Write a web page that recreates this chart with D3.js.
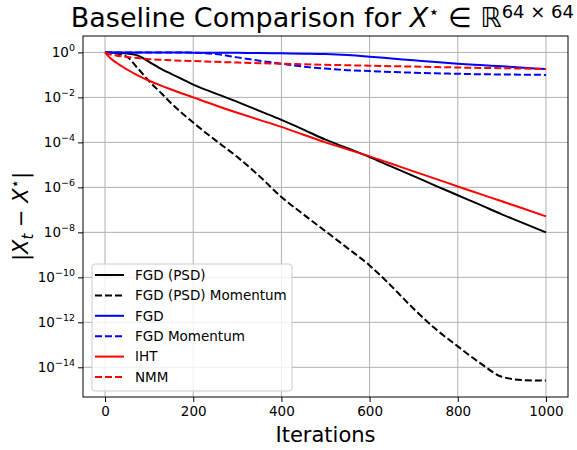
<!DOCTYPE html>
<html>
<head>
<meta charset="utf-8">
<script src="https://cdn.jsdelivr.net/npm/d3@7"></script>
<style>
  body { margin: 0; background: #fff; }
  svg { font-family: "DejaVu Sans", sans-serif; }
</style>
</head>
<body>
<div id="chart"></div>
<script>
// iteration grid shared by all series
var iters = [0, 10, 25, 50, 75, 100, 130, 150, 200, 250, 300, 350, 400, 450, 500, 550, 600, 650, 700, 750, 800, 850, 900, 950, 1000];

// log10 of |X_t - X*|
var fgdPsd = [0, -0.005, -0.02, -0.05, -0.14, -0.42, -0.76, -0.95, -1.43, -1.82, -2.2, -2.6, -3.0, -3.43, -3.88, -4.26, -4.65, -5.08, -5.5, -5.93, -6.35, -6.77, -7.2, -7.6, -8.0];
var fgdPsdMom = [0, -0.01, -0.04, -0.2, -0.72, -1.28, -1.86, -2.26, -3.12, -3.9, -4.65, -5.5, -6.43, -7.2, -7.95, -8.7, -9.47, -10.4, -11.4, -12.3, -13.07, -13.8, -14.42, -14.57, -14.59];
var fgd = [0, 0, 0, 0, 0, -0.002, -0.004, -0.005, -0.01, -0.015, -0.02, -0.03, -0.04, -0.055, -0.075, -0.12, -0.19, -0.27, -0.35, -0.43, -0.5, -0.56, -0.62, -0.68, -0.74];
var fgdMom = [0, 0, 0, 0, 0, 0, 0, 0, -0.01, -0.07, -0.22, -0.37, -0.5, -0.63, -0.72, -0.79, -0.83, -0.87, -0.9, -0.93, -0.95, -0.97, -0.98, -0.99, -1.0];
var iht = [0, -0.22, -0.45, -0.76, -1.03, -1.26, -1.5, -1.65, -2.0, -2.35, -2.68, -3.0, -3.31, -3.66, -4.0, -4.31, -4.62, -4.95, -5.29, -5.62, -5.96, -6.29, -6.62, -6.95, -7.29];
var nmm = [0, -0.08, -0.14, -0.2, -0.25, -0.3, -0.33, -0.35, -0.38, -0.42, -0.45, -0.48, -0.5, -0.53, -0.55, -0.57, -0.59, -0.61, -0.63, -0.65, -0.67, -0.69, -0.7, -0.72, -0.74];

var seriesNames = ["FGD (PSD)", "FGD (PSD) Momentum", "FGD", "FGD Momentum", "IHT", "NMM"];
var seriesValues = [fgdPsd, fgdPsdMom, fgd, fgdMom, iht, nmm];
var seriesColors = ["#000000", "#000000", "#0000ff", "#0000ff", "#ff0000", "#ff0000"];
var seriesDashed = [false, true, false, true, false, true];

var xTicks = [0, 200, 400, 600, 800, 1000];
var yTickExps = [0, -2, -4, -6, -8, -10, -12, -14];

var W = 577, H = 450;
var margin = {top: 36, right: 9, bottom: 53, left: 83};
var width = W - margin.left - margin.right,
    height = H - margin.top - margin.bottom;

var svg = d3.select("#chart").append("svg")
    .attr("width", W)
    .attr("height", H);

var g = svg.append("g")
    .attr("transform", "translate(" + margin.left + "," + margin.top + ")");

var x = d3.scaleLinear().domain([-50, 1050]).range([0, width]);
var y = d3.scaleLog().domain([Math.pow(10, -15.32), Math.pow(10, 0.73)]).range([height, 0]);

// grid
g.append("g").selectAll("line").data(xTicks).enter().append("line")
    .attr("x1", d => x(d)).attr("x2", d => x(d))
    .attr("y1", 0).attr("y2", height)
    .attr("stroke", "#b0b0b0").attr("stroke-width", 1);
g.append("g").selectAll("line").data(yTickExps).enter().append("line")
    .attr("x1", 0).attr("x2", width)
    .attr("y1", d => y(Math.pow(10, d))).attr("y2", d => y(Math.pow(10, d)))
    .attr("stroke", "#b0b0b0").attr("stroke-width", 1);

// axes
var xAxis = g.append("g")
    .attr("transform", "translate(0," + height + ")")
    .call(d3.axisBottom(x).tickValues(xTicks).tickSize(5).tickPadding(4).tickFormat(d3.format("d")));
xAxis.select(".domain").remove();
xAxis.selectAll("text").attr("font-size", "13.5px").attr("fill", "#000").attr("font-family", "DejaVu Sans");

var yAxis = g.append("g")
    .call(d3.axisLeft(y).tickValues(yTickExps.map(e => Math.pow(10, e))).tickSize(5).tickPadding(3).tickFormat(""));
yAxis.select(".domain").remove();
yAxis.selectAll(".tick").each(function(d) {
  var e = Math.round(Math.log10(d));
  var t = d3.select(this).select("text")
      .attr("font-size", "13.5px").attr("fill", "#000").attr("font-family", "DejaVu Sans")
      .attr("dy", "0.32em").attr("x", -8);
  t.append("tspan").text("10");
  t.append("tspan").attr("font-size", "9.5px").attr("dy", "-0.62em")
      .text(e === 0 ? "0" : "\u2212" + Math.abs(e));
});

// lines
var line = d3.line()
    .x((d, i) => x(iters[i]))
    .y(d => y(Math.pow(10, d)))
    .curve(d3.curveMonotoneX);

seriesValues.forEach(function(vals, k) {
  g.append("path")
    .datum(vals)
    .attr("d", line)
    .attr("fill", "none")
    .attr("stroke", seriesColors[k])
    .attr("stroke-width", 2)
    .attr("stroke-dasharray", seriesDashed[k] ? "7,3" : null);
});

// frame
g.append("rect")
    .attr("width", width).attr("height", height)
    .attr("fill", "none").attr("stroke", "#000").attr("stroke-width", 1);

// legend
var leg = g.append("g").attr("transform", "translate(9,228)");
leg.append("rect")
    .attr("width", 200).attr("height", 127).attr("rx", 3)
    .attr("fill", "#fff").attr("fill-opacity", 0.8)
    .attr("stroke", "#cccccc").attr("stroke-width", 1);
seriesNames.forEach(function(name, k) {
  var ry = 11 + k * 20.4;
  leg.append("line")
    .attr("x1", 3).attr("x2", 32).attr("y1", ry).attr("y2", ry)
    .attr("stroke", seriesColors[k]).attr("stroke-width", 2)
    .attr("stroke-dasharray", seriesDashed[k] ? "7,3" : null);
  leg.append("text")
    .attr("x", 43).attr("y", ry).attr("dy", "0.35em")
    .attr("font-size", "13.5px")
    .text(name);
});

// title (right end kept just inside the picture)
var title = svg.append("text")
    .attr("x", W - 3).attr("y", 27)
    .attr("text-anchor", "end")
    .attr("font-size", "27px");
title.append("tspan").text("Baseline Comparison for ");
title.append("tspan").attr("font-style", "italic").text("X");
title.append("tspan").attr("font-size", "18px").attr("dy", -9).text("\u22c6");
title.append("tspan").attr("dy", 9).text(" \u2208 \u211d");
title.append("tspan").attr("font-size", "18px").attr("dy", -9).text("64 \u00d7 64");

// axis labels
svg.append("text")
    .attr("x", margin.left + width / 2).attr("y", 442)
    .attr("text-anchor", "middle")
    .attr("font-size", "21px")
    .text("Iterations");

var yl = svg.append("text")
    .attr("transform", "translate(28," + (margin.top + height / 2) + ") rotate(-90)")
    .attr("text-anchor", "middle")
    .attr("font-size", "21px");
yl.append("tspan").text("|");
yl.append("tspan").attr("font-style", "italic").text("X");
yl.append("tspan").attr("font-style", "italic").attr("font-size", "15px").attr("dy", 5).text("t");
yl.append("tspan").attr("dy", -5).text(" \u2212 ");
yl.append("tspan").attr("font-style", "italic").text("X");
yl.append("tspan").attr("font-size", "15px").attr("dy", -8).text("\u22c6");
yl.append("tspan").attr("dy", 8).text("|");
</script>
</body>
</html>
